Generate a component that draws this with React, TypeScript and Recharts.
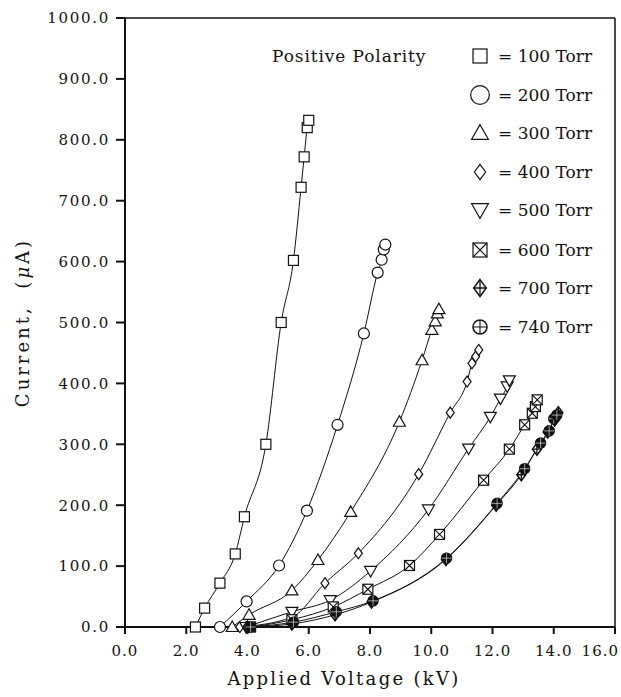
import { ComposedChart, Line, XAxis, YAxis, ReferenceLine } from "recharts";

const FONT = "'DejaVu Serif', serif";
const INK = "#111";

// voltage (kV) / current (uA) pairs, one pair of arrays per pressure
const v100 = [2.3, 2.6, 3.1, 3.6, 3.9, 4.6, 5.1, 5.5, 5.75, 5.85, 5.95, 6.0];
const i100 = [0, 31, 72, 120, 181, 300, 500, 602, 722, 772, 820, 832];

const v200 = [3.1, 3.97, 5.03, 5.94, 6.94, 7.8, 8.25, 8.38, 8.45, 8.5];
const i200 = [0, 42, 101, 191, 332, 482, 582, 603, 620, 628];

const v300 = [3.5, 4.05, 5.45, 6.3, 7.37, 8.96, 9.7, 10.02, 10.13, 10.2, 10.25];
const i300 = [0, 20, 60, 110, 189, 337, 438, 488, 502, 515, 522];

const v400 = [3.75, 5.45, 6.53, 7.62, 9.59, 10.62, 11.17, 11.33, 11.45, 11.55];
const i400 = [0, 16, 72, 121, 251, 352, 403, 433, 444, 455];

const v500 = [3.95, 5.45, 6.7, 8.02, 9.91, 11.22, 11.93, 12.26, 12.48, 12.55];
const i500 = [0, 25, 44, 92, 193, 293, 345, 375, 395, 405];

const v600 = [4.1, 5.45, 6.8, 7.93, 9.29, 10.27, 11.71, 12.55, 13.05, 13.3, 13.4, 13.46];
const i600 = [0, 12, 33, 62, 101, 152, 241, 292, 332, 351, 362, 373];

const v700 = [4.0, 5.45, 6.86, 8.05, 10.48, 12.12, 12.94, 13.45, 13.8, 14.03, 14.15];
const i700 = [0, 5, 20, 41, 111, 200, 250, 292, 320, 340, 352];

const v740 = [4.1, 5.5, 6.9, 8.1, 10.5, 12.15, 13.05, 13.57, 13.85, 14.0, 14.1];
const i740 = [0, 8, 25, 43, 113, 203, 260, 302, 322, 342, 348];

const xTicks = [0, 2, 4, 6, 8, 10, 12, 14, 16];
const yTicks = [0, 100, 200, 300, 400, 500, 600, 700, 800, 900, 1000];

type Kind =
  | "square"
  | "circle"
  | "triUp"
  | "diamond"
  | "triDown"
  | "boxX"
  | "diamondPlus"
  | "circlePlus";

const series: { name: string; kind: Kind; v: number[]; i: number[] }[] = [
  { name: "100 Torr", kind: "square", v: v100, i: i100 },
  { name: "200 Torr", kind: "circle", v: v200, i: i200 },
  { name: "300 Torr", kind: "triUp", v: v300, i: i300 },
  { name: "400 Torr", kind: "diamond", v: v400, i: i400 },
  { name: "500 Torr", kind: "triDown", v: v500, i: i500 },
  { name: "600 Torr", kind: "boxX", v: v600, i: i600 },
  { name: "700 Torr", kind: "diamondPlus", v: v700, i: i700 },
  { name: "740 Torr", kind: "circlePlus", v: v740, i: i740 },
];

function Sym({
  kind,
  cx,
  cy,
  s = 1,
  solid = false,
}: {
  kind: Kind;
  cx: number;
  cy: number;
  s?: number;
  solid?: boolean;
}) {
  const st = {
    stroke: INK,
    strokeWidth: 1.2,
    fill: solid ? INK : "#fff",
  };
  const h = 5 * s;
  switch (kind) {
    case "square":
      return <rect x={cx - h} y={cy - h} width={2 * h} height={2 * h} {...st} />;
    case "circle":
      return <circle cx={cx} cy={cy} r={5.5 * s} {...st} />;
    case "triUp": {
      const r = 6 * s;
      return (
        <polygon
          points={`${cx},${cy - r} ${cx - r},${cy + r * 0.75} ${cx + r},${cy + r * 0.75}`}
          {...st}
        />
      );
    }
    case "triDown": {
      const r = 6 * s;
      return (
        <polygon
          points={`${cx},${cy + r} ${cx - r},${cy - r * 0.75} ${cx + r},${cy - r * 0.75}`}
          {...st}
        />
      );
    }
    case "diamond": {
      const w = 4 * s;
      const t = 5.5 * s;
      return (
        <polygon
          points={`${cx},${cy - t} ${cx + w},${cy} ${cx},${cy + t} ${cx - w},${cy}`}
          {...st}
        />
      );
    }
    case "boxX":
      return (
        <g>
          <rect x={cx - h} y={cy - h} width={2 * h} height={2 * h} {...st} />
          <path
            d={`M${cx - h},${cy - h}L${cx + h},${cy + h}M${cx + h},${cy - h}L${cx - h},${cy + h}`}
            stroke={INK}
            strokeWidth={1.1}
          />
        </g>
      );
    case "diamondPlus": {
      const w = 4.5 * s;
      const t = 6 * s;
      return (
        <g>
          <polygon
            points={`${cx},${cy - t} ${cx + w},${cy} ${cx},${cy + t} ${cx - w},${cy}`}
            {...st}
            strokeWidth={1.5}
          />
          <path
            d={`M${cx},${cy - t}L${cx},${cy + t}M${cx - w},${cy}L${cx + w},${cy}`}
            stroke={INK}
            strokeWidth={1.3}
          />
        </g>
      );
    }
    case "circlePlus": {
      const r = 5 * s;
      return (
        <g>
          <circle cx={cx} cy={cy} r={r} {...st} strokeWidth={1.5} />
          <path
            d={`M${cx},${cy - r}L${cx},${cy + r}M${cx - r},${cy}L${cx + r},${cy}`}
            stroke={solid ? "#fff" : INK}
            strokeWidth={solid ? 0.6 : 1.1}
          />
        </g>
      );
    }
  }
  return null;
}

const XTick = ({ x, y, payload }: any) => {
  const last = payload.value === 16;
  return (
    <text
      x={last ? x + 6 : x}
      y={y}
      dy="0.71em"
      textAnchor={last ? "end" : "middle"}
      fontFamily={FONT}
      fontSize={15}
      letterSpacing={1}
      fill={INK}
    >
      {Number(payload.value).toFixed(1)}
    </text>
  );
};

const XTitle = ({ viewBox }: any) => (
  <text
    x={viewBox.x + viewBox.width / 2 - 26}
    y={viewBox.y + viewBox.height - 12}
    textAnchor="middle"
    fontFamily={FONT}
    fontSize={18}
    letterSpacing={2.3}
    fill={INK}
  >
    Applied Voltage (kV)
  </text>
);

const YTitle = ({ viewBox }: any) => {
  const cx = 22;
  const cy = viewBox.y + viewBox.height / 2;
  return (
    <text
      x={cx}
      y={cy}
      transform={`rotate(-90, ${cx}, ${cy})`}
      textAnchor="middle"
      dominantBaseline="central"
      fontFamily={FONT}
      fontSize={18}
      letterSpacing={3}
      wordSpacing={8}
      fill={INK}
    >
      Current, (<tspan fontStyle="italic">μ</tspan>A)
    </text>
  );
};

const rowTops = [44, 83, 121, 160, 198, 238, 276, 315];

export default function App() {
  return (
    <div style={{ position: "absolute", left: 0, top: 0, width: 621, height: 697 }}>
      <ComposedChart
        width={621}
        height={697}
        margin={{ top: 18, right: 6, bottom: 0, left: 25 }}
      >
        <XAxis
          type="number"
          dataKey="v"
          domain={[0, 16]}
          ticks={xTicks}
          height={70}
          stroke={INK}
          strokeWidth={2}
          tickSize={7}
          tickMargin={11}
          tick={<XTick />}
          label={<XTitle />}
        />
        <YAxis
          type="number"
          domain={[0, 1000]}
          ticks={yTicks}
          width={100}
          stroke={INK}
          strokeWidth={2}
          tickSize={9}
          tickMargin={6}
          tickFormatter={(v: number) => v.toFixed(1)}
          tick={{ fontFamily: FONT, fontSize: 15, fill: INK, letterSpacing: 1.7 }}
          label={<YTitle />}
        />
        <ReferenceLine y={1000} stroke={INK} strokeWidth={1.5} />
        <ReferenceLine x={16} stroke={INK} strokeWidth={1.5} />
        {series.map((s) => (
          <Line
            key={s.name}
            data={s.v.map((v, k) => ({ v, i: s.i[k] }))}
            dataKey="i"
            type="monotone"
            stroke={INK}
            strokeWidth={1}
            isAnimationActive={false}
            dot={(p: any) => (
              <Sym
                key={`${s.name}-${p.index}`}
                kind={s.kind}
                cx={p.cx}
                cy={p.cy}
                solid={s.kind === "circlePlus"}
              />
            )}
            activeDot={false}
          />
        ))}
      </ComposedChart>

      <div
        style={{
          position: "absolute",
          left: 272,
          top: 44,
          height: 24,
          display: "flex",
          alignItems: "center",
          fontFamily: FONT,
          fontSize: 17,
          letterSpacing: 0.9,
          color: INK,
          whiteSpace: "nowrap",
        }}
      >
        Positive Polarity
      </div>

      {series.map((s, k) => (
        <div
          key={s.name}
          style={{
            position: "absolute",
            left: 466,
            top: rowTops[k],
            height: 24,
            display: "flex",
            alignItems: "center",
            fontFamily: FONT,
            fontSize: 17,
            color: INK,
            whiteSpace: "nowrap",
          }}
        >
          <svg width={26} height={24}>
            <Sym kind={s.kind} cx={14} cy={12} s={s.kind === "circle" ? 1.7 : 1.4} />
          </svg>
          <span style={{ marginLeft: 6 }}>= {s.name}</span>
        </div>
      ))}
    </div>
  );
}
